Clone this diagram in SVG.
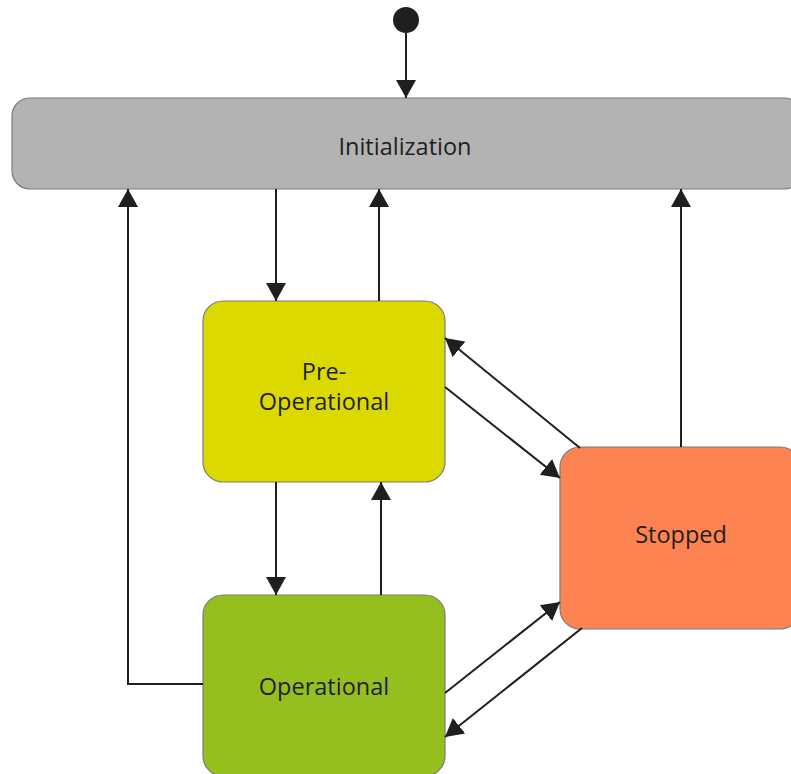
<svg xmlns="http://www.w3.org/2000/svg" width="791" height="774" viewBox="0 0 791 774">
<style>
.node rect{stroke:#7a7a7a;stroke-width:1.2}
.lbl{font-family:"Open Sans","Noto Sans",sans-serif;font-size:23.5px;fill:#1f1f1f;text-anchor:middle}
.conn path{fill:none;stroke:#1f1f1f;stroke-width:2;marker-end:url(#ah)}
</style>
<defs>
<marker id="ah" markerUnits="userSpaceOnUse" markerWidth="20" markerHeight="22" refX="18" refY="10" orient="auto" viewBox="0 0 20 20">
<path d="M0,0 L18,10 L0,20 Z" fill="#1f1f1f"/>
</marker>
</defs>
<rect width="791" height="774" fill="#fff"/>
<g id="start"><circle cx="406" cy="20" r="13" fill="#1f1f1f"/></g>
<g id="initialization" class="node"><rect x="12" y="98" width="790" height="91" rx="18" fill="#b3b3b3"/><text class="lbl" x="405" y="155">Initialization</text></g>
<g id="preoperational" class="node"><rect x="203" y="301" width="242" height="181" rx="20" fill="#dcd900"/><text class="lbl" x="324" y="380">Pre-</text><text class="lbl" x="324" y="410">Operational</text></g>
<g id="stopped" class="node"><rect x="560" y="447" width="240" height="182" rx="20" fill="#fe8353"/><text class="lbl" x="681" y="543">Stopped</text></g>
<g id="operational" class="node"><rect x="203" y="595" width="242" height="181" rx="20" fill="#94bf1f"/><text class="lbl" x="324" y="695">Operational</text></g>
<g id="connectors" class="conn">
<path d="M406,33 L406,98"/>
<path d="M276,189 L276,301"/>
<path d="M379,301 L379,189"/>
<path d="M203,684 L128,684 L128,189"/>
<path d="M681,447 L681,189"/>
<path d="M276,482 L276,595"/>
<path d="M381,595 L381,482"/>
<path d="M580,448 L445,338"/>
<path d="M445,387 L560,478"/>
<path d="M445,693 L560,602"/>
<path d="M582,628 L445,737"/>
</g>
</svg>
